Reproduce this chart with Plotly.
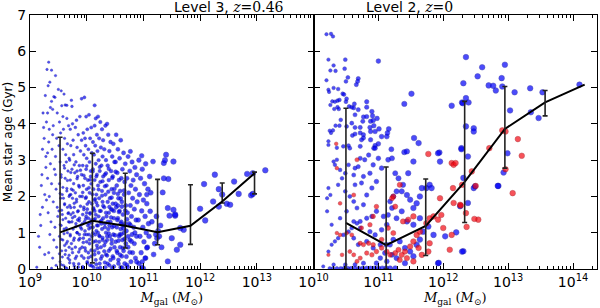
import numpy as np
import plotly.graph_objects as go
from plotly.subplots import make_subplots

# ---------------- data (log10 Mgal, mean star age in Gyr) ----------------
left_blue_low = [
    (9.12,0.05),(9.15,0.9),(9.18,1.5),(9.2,2.3),(9.22,3.3),(9.25,3.6),(9.23,4.3),(9.27,4.78),(9.28,2.8),(9.19,1.2),
    (9.26,0.4),(9.29,1.9),(9.21,2.6),(9.24,3.9),(9.3,5.5),(9.17,0.6),(9.28,3.1),(9.22,1.7),(9.26,2.05),(9.29,4.05),
    (9.33,5.7),(9.38,5.48),(9.45,5.33),(9.32,5.05),(9.35,5.15),(9.42,4.75),(9.44,4.73),(9.38,4.62),(9.36,4.45),(9.4,4.4),
    (9.48,4.3),(9.31,4.3),(9.34,3.85),(9.41,3.95),(9.47,3.6),(9.33,3.5),(9.39,3.3),(9.45,3.1),(9.36,2.9),(9.43,2.75),
    (9.31,2.5),(9.38,2.35),(9.46,2.2),(9.34,2.0),(9.41,1.85),(9.48,1.7),(9.32,1.55),(9.37,1.3),(9.44,1.15),(9.35,0.95),
    (9.42,0.8),(9.47,0.6),(9.33,0.45),(9.4,0.3),(9.46,0.1),(9.38,0.02),(9.49,1.45),(9.45,2.6),(9.4,3.7),(9.31,3.2),
    (9.5,4.95),(9.55,4.91),(9.6,4.82),(9.56,4.5),(9.62,4.52),(9.58,4.2),(9.65,4.15),(9.52,4.05),(9.68,3.95),(9.54,3.75),
    (9.61,3.6),(9.66,3.45),(9.51,3.4),(9.58,3.3),(9.63,3.15),(9.69,3.05),(9.53,2.95),(9.6,2.85),(9.67,2.7),(9.55,2.6),
    (9.62,2.5),(9.52,2.35),(9.58,2.25),(9.65,2.15),(9.69,2.0),(9.54,1.95),(9.61,1.8),(9.66,1.7),(9.51,1.6),(9.57,1.5),
    (9.63,1.4),(9.68,1.3),(9.55,1.2),(9.6,1.1),(9.66,1.0),(9.52,0.9),(9.58,0.8),(9.64,0.7),(9.69,0.6),(9.56,0.5),
    (9.62,0.4),(9.67,0.3),(9.53,0.2),(9.59,0.1),(9.65,0.02),(9.57,2.05),(9.64,2.95),(9.59,3.85),(9.68,1.55),(9.61,0.65),
    (9.73,4.65),(9.74,4.48),(9.65,4.51),(9.82,4.1),(9.75,4.0),(9.88,4.2),(9.71,3.85),(9.8,3.9),(9.85,3.7),(9.76,3.55),
    (9.72,3.4),(9.83,3.35),(9.89,3.25),(9.77,3.15),(9.7,3.0),(9.81,2.95),(9.87,2.85),(9.74,2.75),(9.79,2.65),(9.84,2.55),
    (9.71,2.45),(9.77,2.35),(9.86,2.3),(9.73,2.2),(9.8,2.1),(9.88,2.0),(9.75,1.95),(9.82,1.85),(9.7,1.75),(9.78,1.7),
    (9.85,1.6),(9.72,1.5),(9.79,1.45),(9.87,1.4),(9.74,1.3),(9.81,1.25),(9.89,1.15),(9.76,1.1),(9.83,1.0),(9.71,0.95),
    (9.78,0.85),(9.86,0.8),(9.73,0.7),(9.8,0.6),(9.88,0.55),(9.75,0.45),(9.82,0.35),(9.7,0.25),(9.77,0.15),(9.85,0.05),
    (9.79,0.0),(9.84,1.35),(9.76,1.55),(9.87,0.95),(9.72,2.05),(9.83,2.7),
    (9.91,4.69),(9.96,4.73),(9.99,4.2),(10.04,4.25),(10.08,3.9),(9.94,3.75),(10.01,3.85),(10.06,3.6),(9.91,3.55),(9.98,3.4),
    (10.03,3.3),(10.09,3.2),(9.95,3.15),(10.0,3.05),(10.05,2.95),(9.93,2.85),(9.99,2.75),(10.07,2.7),(9.91,2.6),(9.97,2.5),
    (10.02,2.45),(10.08,2.35),(9.94,2.3),(10.0,2.2),(10.05,2.1),(9.92,2.0),(9.98,1.95),(10.04,1.85),(10.09,1.8),(9.95,1.7),
    (10.01,1.65),(10.06,1.55),(9.93,1.5),(9.99,1.45),(10.03,1.4),(10.08,1.35),(9.96,1.3),(10.02,1.2),(10.07,1.15),(9.91,1.1),
    (9.97,1.05),(10.04,0.95),(10.09,0.9),(9.94,0.85),(10.0,0.75),(10.05,0.7),(9.92,0.6),(9.98,0.5),(10.03,0.45),(10.08,0.35),
    (9.95,0.3),(10.01,0.2),(10.06,0.1),(9.93,0.02),(10.0,1.55),(10.04,1.25),(9.96,0.95),(10.07,2.55),(9.97,3.6),
    (10.14,4.51),(10.16,4.15),(10.2,4.2),(10.24,4.05),(10.14,3.95),(10.27,3.85),(10.18,3.7),(10.22,3.6),(10.11,3.5),(10.29,3.55),
    (10.15,3.4),(10.25,3.35),(10.19,3.25),(10.13,3.15),(10.28,3.1),(10.21,3.0),(10.16,2.9),(10.26,2.85),(10.11,2.75),(10.23,2.7),
    (10.18,2.6),(10.29,2.55),(10.14,2.45),(10.24,2.4),(10.2,2.3),(10.12,2.2),(10.27,2.15),(10.17,2.05),(10.22,1.95),(10.14,1.9),
    (10.28,1.85),(10.19,1.75),(10.12,1.65),(10.25,1.6),(10.16,1.5),(10.21,1.45),(10.29,1.4),(10.13,1.35),(10.24,1.3),(10.18,1.2),
    (10.11,1.15),(10.27,1.1),(10.2,1.0),(10.15,0.95),(10.23,0.9),(10.28,0.8),(10.12,0.75),(10.18,0.65),(10.25,0.6),(10.14,0.5),
    (10.21,0.45),(10.27,0.35),(10.16,0.25),(10.23,0.15),(10.12,0.05),(10.19,0.02),(10.26,1.25),(10.17,1.05),(10.22,0.75),(10.14,1.6),
    (10.33,3.95),(10.38,3.7),(10.36,4.0),(10.42,3.5),(10.47,3.45),(10.31,3.3),(10.4,3.25),(10.45,3.1),(10.34,3.0),(10.49,2.95),
    (10.37,2.85),(10.43,2.7),(10.32,2.6),(10.46,2.55),(10.39,2.45),(10.35,2.3),(10.44,2.2),(10.48,2.1),(10.33,2.05),(10.41,1.95),
    (10.37,1.85),(10.46,1.8),(10.31,1.7),(10.43,1.65),(10.39,1.55),(10.35,1.45),(10.48,1.4),(10.42,1.3),(10.32,1.25),(10.45,1.15),
    (10.38,1.1),(10.34,1.0),(10.47,0.95),(10.41,0.9),(10.36,0.8),(10.44,0.7),(10.31,0.65),(10.49,0.6),(10.39,0.5),(10.34,0.4),
    (10.46,0.35),(10.42,0.25),(10.37,0.15),(10.33,0.05),(10.45,0.02),(10.4,1.2),(10.36,0.9),(10.48,1.6),
    (10.52,3.7),(10.6,3.55),(10.55,3.3),(10.65,3.2),(10.58,3.05),(10.51,2.95),(10.68,2.9),(10.63,2.75),(10.54,2.65),(10.61,2.5),
    (10.67,2.4),(10.53,2.3),(10.59,2.15),(10.66,2.05),(10.56,1.95),(10.62,1.85),(10.69,1.75),(10.52,1.7),(10.58,1.6),(10.64,1.5),
    (10.55,1.4),(10.61,1.3),(10.68,1.25),(10.53,1.15),(10.6,1.1),(10.66,1.0),(10.57,0.9),(10.63,0.8),(10.51,0.75),(10.69,0.7),
    (10.59,0.6),(10.65,0.5),(10.54,0.45),(10.62,0.35),(10.56,0.25),(10.67,0.15),(10.6,0.05),(10.64,1.2),(10.58,0.95),(10.55,1.75),
    (10.73,3.1),(10.77,3.24),(10.8,2.95),(10.85,2.8),(10.76,2.7),(10.88,2.6),(10.71,2.5),(10.82,2.45),(10.78,2.3),(10.86,2.2),
    (10.74,2.1),(10.81,1.95),(10.89,1.85),(10.77,1.75),(10.84,1.65),(10.72,1.55),(10.79,1.45),(10.87,1.35),(10.75,1.25),(10.83,1.15),
    (10.7,1.05),(10.8,0.95),(10.88,0.9),(10.76,0.8),(10.84,0.7),(10.73,0.6),(10.81,0.45),(10.86,0.3),(10.78,0.2),(10.72,0.05),
    (10.85,1.0),
    (10.92,3.0),(10.97,3.12),(10.98,2.75),(11.04,2.9),(10.95,2.5),(11.02,2.35),(11.08,2.2),(10.93,2.05),(11.0,1.9),(11.06,1.8),
    (10.97,1.6),(11.03,1.45),(10.91,1.35),(11.09,1.25),(10.99,1.15),(11.05,1.0),(10.94,0.9),(11.01,0.75),(11.07,0.6),(10.96,0.45),
    (11.04,0.3),(10.92,0.15),(11.0,0.02),(10.88,0.2),(10.97,0.05),(11.03,0.3),(10.98,0.2),(11.06,0.58),
]

left_blue_dense = [
    (9.52,0.42),(9.57,0.33),(9.63,0.51),(9.69,0.38),(9.74,0.55),(9.8,0.29),(9.86,0.47),(9.91,0.36),(9.97,0.58),(10.03,0.31),
    (10.08,0.52),(10.14,0.4),(10.19,0.57),(10.25,0.28),(10.31,0.49),(10.36,0.37),(10.42,0.56),(10.47,0.3),(10.53,0.5),(10.59,0.39),
    (10.64,0.58),(10.7,0.34),(10.76,0.46),
    (9.55,0.82),(9.6,0.97),(9.66,0.76),(9.71,0.91),(9.77,0.79),(9.83,1.0),(9.88,0.84),(9.94,0.73),(10.0,0.95),(10.05,0.81),
    (10.11,0.99),(10.16,0.77),(10.22,0.92),(10.28,0.86),(10.33,0.74),(10.39,0.98),(10.44,0.8),(10.5,0.93),(10.56,0.78),(10.61,0.96),
    (10.67,0.83),(10.73,0.9),(10.79,0.76),
    (9.53,1.22),(9.58,1.36),(9.64,1.13),(9.7,1.29),(9.75,1.41),(9.81,1.17),(9.87,1.33),(9.92,1.24),(9.98,1.38),(10.04,1.11),
    (10.09,1.27),(10.15,1.39),(10.2,1.2),(10.26,1.34),(10.32,1.15),(10.37,1.3),(10.43,1.42),(10.48,1.19),(10.54,1.35),(10.6,1.25),
    (10.65,1.12),(10.71,1.37),(10.77,1.21),
    (9.56,1.62),(9.61,1.77),(9.67,1.53),(9.72,1.69),(9.78,1.81),(9.84,1.58),(9.89,1.73),(9.95,1.64),(10.01,1.79),(10.06,1.52),
    (10.12,1.68),(10.17,1.83),(10.23,1.6),(10.29,1.74),(10.34,1.55),(10.4,1.71),(10.45,1.63),(10.51,1.8),(10.57,1.57),(10.62,1.72),
    (10.68,1.61),
    (9.53,2.08),(9.59,1.95),(9.65,2.22),(9.7,2.04),(9.76,2.17),(9.82,1.92),(9.87,2.26),(9.93,2.11),(9.99,1.98),(10.04,2.24),
    (10.1,2.06),(10.15,1.93),(10.21,2.19),(10.27,2.02),(10.32,2.28),(10.38,2.13),(10.44,1.97),(10.49,2.21),(10.55,2.07),(10.6,1.94),
    (10.66,2.16),
    (9.55,2.53),(9.61,2.78),(9.66,2.44),(9.72,2.66),(9.78,2.87),(9.83,2.49),(9.89,2.72),(9.95,2.58),(10.0,2.84),(10.06,2.46),
    (10.11,2.69),(10.17,2.55),(10.23,2.81),(10.28,2.42),(10.34,2.64),(10.39,2.76),(10.45,2.51),(10.51,2.68),(10.57,2.45),
    (9.55,0.12),(9.62,0.05),(9.7,0.17),(9.78,0.08),(9.86,0.14),(9.93,0.06),(10.01,0.16),(10.09,0.09),(10.17,0.13),(10.24,0.04),
    (10.32,0.18),(10.4,0.1),(10.48,0.07),(10.56,0.15),(10.63,0.03),(10.71,0.11),
]

left_blue_high = [
    (11.4,3.15),(11.36,2.92),(11.38,3.0),(11.53,2.96),(11.17,2.96),(11.44,2.48),(11.34,2.11),(11.11,2.55),(11.13,2.1),(11.06,2.05),
    (11.43,1.68),(11.53,1.63),(11.56,1.47),(11.46,1.47),(11.12,1.59),(11.23,1.45),(11.71,1.08),(11.65,0.67),(11.59,0.53),(11.43,0.21),
    (11.22,0.95),(11.26,1.05),(11.28,0.9),(11.24,0.85),(11.5,0.85),(11.2,0.7),(11.36,2.5),(11.56,1.5),(11.65,1.13),(11.3,1.2),
    (11.15,1.3),(11.32,0.6),(11.18,0.4),(11.1,0.9),
    (12.0,1.66),(12.09,1.34),(12.07,2.34),(12.23,1.86),(12.26,2.6),(12.33,2.2),(12.39,2.05),(12.33,1.72),(12.47,1.8),(12.53,1.77),
    (12.6,2.41),(12.68,2.07),(12.83,2.62),(12.93,2.64),(12.9,2.03),(12.93,2.07),(13.15,2.72),
]

right_blue = [
    (10.2,6.47),(10.27,6.48),(10.3,6.41),(10.23,5.77),(10.49,5.77),(11.0,5.73),(10.31,5.61),(10.26,5.47),(10.34,5.46),(10.48,5.52),
    (10.2,5.2),(10.5,5.17),(10.53,5.28),(10.69,5.25),(10.68,5.17),(10.66,5.08),(10.31,4.99),(10.38,4.96),(10.23,4.94),(10.24,4.88),
    (10.45,4.83),(10.47,4.81),(10.51,4.69),(10.29,4.62),(10.33,4.61),(10.37,4.64),(10.4,4.66),(10.26,4.52),(10.32,4.41),(10.37,4.46),
    (10.39,4.41),(10.5,4.61),(10.55,4.48),(10.59,4.46),(10.63,4.55),(10.62,4.44),(10.69,4.39),(10.82,4.61),(10.9,4.34),(10.82,4.46),
    (10.64,4.25),(10.77,4.19),(10.82,4.2),(10.91,4.22),(10.98,4.15),(10.76,4.07),(10.88,4.07),(10.92,4.09),(10.42,4.11),(10.4,3.95),
    (10.34,3.95),(10.3,3.82),(10.25,3.81),(10.27,3.75),(10.51,3.93),(10.59,4.02),(10.64,3.9),(10.72,3.9),(10.6,3.68),(10.64,3.72),
    (10.72,3.75),(10.77,3.7),(10.77,3.61),(10.87,3.9),(10.93,3.95),(10.88,3.79),(10.95,3.79),(11.01,3.86),(11.05,3.65),(11.13,3.65),
    (11.14,3.75),(11.16,3.86),(11.0,3.45),(10.95,3.4),(10.93,3.33),(10.88,3.56),(10.74,3.56),(10.72,3.38),(11.4,4.55),(11.51,4.83),
    (11.55,3.61),(11.62,3.47),(12.13,4.5),(12.29,4.59),(12.31,5.12),(10.23,3.52),(10.23,3.42),(10.54,3.4),(10.56,3.33),(10.46,3.38),
    (10.36,3.34),(11.2,3.3),(12.28,3.33),(11.4,3.22),(11.44,3.24),(11.94,3.21),
    (10.31,2.96),(10.36,3.01),(10.33,2.87),(10.23,2.23),(10.26,2.04),(10.21,1.95),(10.38,2.32),(10.44,2.5),(10.41,2.73),(10.49,2.64),
    (10.54,2.87),(10.62,2.59),(10.64,2.78),(10.69,2.82),(10.72,3.05),(10.79,3.01),(10.85,3.14),(10.95,3.33),(11.0,3.05),(10.92,2.87),
    (10.87,2.64),(10.97,2.41),(10.9,2.23),(10.82,2.04),(10.77,1.77),(10.67,1.68),(10.62,1.86),(10.56,2.0),(10.49,2.14),(10.64,2.32),
    (10.74,2.37),(10.77,2.55),(11.05,2.78),(11.15,3.01),(11.21,3.05),(11.26,2.64),(11.31,2.5),(11.38,2.32),(11.36,2.14),(11.44,2.04),
    (11.49,1.91),(11.54,1.68),(11.59,1.81),(11.64,2.0),(11.67,2.23),(11.74,2.23),(11.79,2.32),(11.82,2.23),(11.92,3.19),(11.95,2.96),
    (11.54,2.96),(11.46,2.64),(11.28,2.14),(11.23,2.0),(11.18,1.86),(11.21,1.68),(11.15,1.49),(11.08,1.45),(10.97,1.59),(10.9,1.45),
    (10.82,1.4),(10.72,1.31),(10.67,1.26),(10.59,1.13),(10.54,1.03),(10.46,0.94),(10.38,0.85),(10.33,0.76),(10.28,0.67),(10.23,0.48),
    (10.62,0.85),(10.69,0.67),(10.82,0.76),(10.92,0.58),(11.03,0.67),(11.1,0.44),(11.18,0.67),(11.23,0.81),(11.33,0.76),(11.41,0.58),
    (11.49,0.48),(11.54,0.35),(11.59,0.67),(11.64,0.81),(11.69,1.03),(11.77,1.17),(11.85,0.94),(12.03,0.9),(11.92,0.16),(11.28,0.3),
    (11.03,0.3),(10.97,0.16),(10.77,0.16),(10.64,0.12),(10.49,0.12),(10.31,0.12),(10.15,0.07),(10.21,1.59),(10.28,1.22),(10.41,1.4),
    (10.51,1.59),(10.62,1.31),(10.72,1.13),(10.87,1.03),(10.95,0.94),(11.05,1.08),(11.13,1.22),(11.28,1.4),(11.36,1.59),(11.44,1.31),
    (11.54,1.22),(11.64,1.4),(11.21,0.39),(11.41,0.16),(11.13,0.21),(11.12,0.67),(12.31,0.49),(12.85,2.29),(12.93,2.66),(11.93,0.17),
    (10.25,0.02),(10.3,0.02),(10.36,0.02),(10.42,0.02),(10.47,0.02),(10.53,0.02),(10.58,0.02),(10.64,0.02),(10.7,0.02),(10.76,0.02),
    (10.82,0.02),(10.88,0.02),(10.94,0.02),(11.0,0.02),(11.06,0.02),(11.12,0.02),(11.18,0.02),(11.26,0.02),
    (12.6,5.56),(12.95,5.63),(12.35,5.84),(12.53,5.31),(12.9,5.26),(12.7,5.06),(12.77,5.05),(12.81,4.92),(12.91,5.03),(12.3,4.57),
    (12.35,4.71),(12.39,4.59),(13.1,4.87),(13.34,4.98),(13.53,4.87),(14.1,5.08),(13.03,4.37),(13.35,4.32),(13.47,4.16),(12.35,3.93),
    (12.47,3.88),(12.47,3.79),(12.28,3.3),(12.38,3.1),(12.31,2.51),(12.47,2.23),(12.49,2.28),(12.38,1.82),(12.26,1.73),(12.2,1.01),
    (12.29,0.48),(12.99,3.19),(12.84,2.29),
]

right_red = [
    (10.35,3.45),(11.77,3.17),(10.67,3.01),(10.36,2.78),(10.41,1.81),(10.62,2.04),(11.23,2.0),(11.21,1.95),(11.33,2.32),(11.26,1.72),
    (10.97,1.72),(10.92,1.45),(10.87,1.22),(10.74,1.13),(10.59,0.94),(10.51,0.99),(10.41,0.94),(10.36,0.99),(10.23,0.39),(10.44,0.39),
    (10.56,0.48),(10.72,0.71),(10.77,0.67),(10.82,0.44),(10.9,0.39),(10.97,0.48),(11.05,0.58),(11.13,0.48),(11.18,0.39),(11.26,0.44),
    (11.31,0.53),(11.36,0.39),(11.41,0.48),(11.49,0.62),(11.54,0.76),(11.59,0.94),(11.64,1.03),(11.74,1.26),(11.79,1.4),(11.85,1.45),
    (11.92,1.36),(11.97,1.49),(12.0,1.13),(11.79,0.71),(11.77,0.48),(11.67,0.39),(11.38,1.31),(11.46,1.36),(11.54,1.45),(11.15,1.13),
    (11.23,0.99),(11.05,0.81),(10.92,0.67),(10.85,0.71),(10.62,0.39),(10.72,0.3),(10.67,0.21),(11.33,0.25),(11.44,0.3),(11.54,0.21),
    (11.62,0.58),(12.13,2.92),(12.15,2.23),(12.1,0.53),(12.13,0.94),(12.26,1.77),(11.95,1.95),(12.16,2.87),(12.44,2.69),(12.16,1.82),
    (12.54,1.36),(12.48,1.38),(12.91,3.82),(12.96,3.79),(13.15,3.58),(13.21,3.12),(12.71,3.33),(12.29,2.32),(12.5,2.29),(12.27,1.75),
    (12.35,1.54),(12.36,1.16),(13.07,2.09),(12.96,2.75),(12.19,2.92),
]

# median lines with percentile error bars
left_med_logm = [9.53, 10.10, 10.68, 11.25, 11.83, 12.39, 12.96]
left_med_age = [1.01, 1.33, 1.19, 1.01, 1.19, 1.86, 2.64]
left_err_lo = [0.0, 0.17, 0.58, 0.67, 0.68, 1.82, 2.07]
left_err_hi = [3.63, 3.19, 2.64, 2.47, 2.32, 2.37, 2.67]

right_med_logm = [10.50, 11.12, 11.73, 12.33, 12.95, 13.57, 14.18]
right_med_age = [1.27, 0.66, 1.19, 2.40, 3.86, 4.59, 5.08]
right_err_logm = [10.50, 11.12, 11.73, 12.33, 12.95, 13.57]
right_err_mid = [1.27, 0.66, 1.19, 2.40, 3.86, 4.59]
right_err_lo = [0.0, 0.0, 0.37, 1.28, 2.78, 4.22]
right_err_hi = [4.43, 2.81, 2.48, 4.62, 5.03, 4.92]

left_xticks = [9, 10, 11, 12, 13]
right_xticks = [10, 11, 12, 13, 14]
yticks = [0, 1, 2, 3, 4, 5, 6, 7]

# ---------------- figure ----------------
BLUE = "rgb(0,0,250)"
BLUE_EDGE = "rgb(0,0,150)"
RED = "rgb(245,10,20)"
RED_EDGE = "rgb(150,0,10)"

fig = make_subplots(rows=1, cols=2, shared_yaxes=False, horizontal_spacing=0)


def pts(lst):
    a = np.array(lst, dtype=float)
    return 10 ** a[:, 0], a[:, 1], a[:, 0]


def msize(lm):
    return np.clip(1.8 + 1.6 * (lm - 9.2), 2.4, 5.6)


for lst, col, edge, c in [(left_blue_low, BLUE, BLUE_EDGE, 1), (left_blue_dense, BLUE, BLUE_EDGE, 1),
                          (left_blue_high, BLUE, BLUE_EDGE, 1),
                          (right_blue, BLUE, BLUE_EDGE, 2), (right_red, RED, RED_EDGE, 2)]:
    x, y, lm = pts(lst)
    fig.add_trace(go.Scatter(x=x, y=y, mode="markers",
                             marker=dict(color=col, size=msize(lm), line=dict(width=0.5, color=edge)),
                             showlegend=False, hoverinfo="skip"), row=1, col=c)

# left median with error bars
lx = 10 ** np.array(left_med_logm)
ly = np.array(left_med_age)
fig.add_trace(go.Scatter(x=lx, y=ly, mode="lines", line=dict(color="black", width=2),
                         error_y=dict(type="data", symmetric=False,
                                      array=np.array(left_err_hi) - ly,
                                      arrayminus=ly - np.array(left_err_lo),
                                      color="#222", thickness=1.6, width=2.5),
                         showlegend=False), row=1, col=1)

# right median line
rx = 10 ** np.array(right_med_logm)
fig.add_trace(go.Scatter(x=rx, y=right_med_age, mode="lines", line=dict(color="black", width=2),
                         showlegend=False), row=1, col=2)
rex = 10 ** np.array(right_err_logm)
rey = np.array(right_err_mid)
fig.add_trace(go.Scatter(x=rex, y=rey, mode="markers", marker=dict(size=0.1, color="rgba(0,0,0,0)"),
                         error_y=dict(type="data", symmetric=False,
                                      array=np.array(right_err_hi) - rey,
                                      arrayminus=rey - np.array(right_err_lo),
                                      color="#222", thickness=1.6, width=2.5),
                         showlegend=False), row=1, col=2)


def minor_vals(lo, hi):
    return [k * 10.0 ** n for n in range(lo, hi) for k in range(2, 10)]


TICKFONT = dict(family="DejaVu Sans", size=14, color="black")
xtitle = "<i>M</i><sub>gal</sub> (<i>M</i><sub>⊙</sub>)"
common_x = dict(type="log", showline=True, linecolor="black", linewidth=1, mirror="allticks",
                ticks="inside", ticklen=6, tickcolor="black", showgrid=False, zeroline=False,
                tickfont=TICKFONT, automargin=False,
                title=dict(text=xtitle, font=dict(family="DejaVu Serif", size=13, color="black"), standoff=0))

fig.update_xaxes(common_x, row=1, col=1)
fig.update_xaxes(common_x, row=1, col=2)
fig.update_xaxes(range=[9, 14], tickvals=[10.0 ** v for v in left_xticks],
                 ticktext=["10<sup>%d</sup>" % v for v in left_xticks],
                 minor=dict(tickvals=minor_vals(9, 14), ticks="inside", ticklen=3, tickcolor="black", showgrid=False),
                 row=1, col=1)
fig.update_xaxes(range=[10, 14.37], tickvals=[10.0 ** v for v in right_xticks],
                 ticktext=["10<sup>%d</sup>" % v for v in right_xticks],
                 minor=dict(tickvals=minor_vals(10, 15), ticks="inside", ticklen=3, tickcolor="black", showgrid=False),
                 row=1, col=2)

common_y = dict(range=[0, 7], tickvals=yticks, showline=True, linecolor="black", linewidth=1,
                mirror="allticks", ticks="inside", ticklen=6, tickcolor="black", showgrid=False,
                zeroline=False, tickfont=TICKFONT, automargin=False)
fig.update_yaxes(common_y, row=1, col=1)
fig.update_yaxes(common_y, row=1, col=2)
fig.update_yaxes(title=dict(text="Mean star age (Gyr)", font=dict(family="DejaVu Sans", size=12, color="black"),
                            standoff=2), row=1, col=1)
fig.update_yaxes(showticklabels=False, row=1, col=2)

TITLEFONT = dict(family="DejaVu Sans", size=14, color="black")
fig.add_annotation(x=0.25, y=1, xref="paper", yref="paper", yanchor="bottom", showarrow=False,
                   text='Level 3, <span style="font-family:DejaVu Serif"><i>z</i>=0.46</span>',
                   font=TITLEFONT, yshift=-2)
fig.add_annotation(x=0.75, y=1, xref="paper", yref="paper", yanchor="bottom", showarrow=False,
                   text='Level 2, <span style="font-family:DejaVu Serif"><i>z</i>=0</span>',
                   font=TITLEFONT, yshift=-2)

fig.update_layout(width=600, height=308, margin=dict(l=30, r=3, t=15, b=39, autoexpand=False),
                  plot_bgcolor="white", paper_bgcolor="white")

fig.write_html("out.html", config={"displayModeBar": False},
               post_script="document.body.style.margin='0';document.body.style.padding='0';")
